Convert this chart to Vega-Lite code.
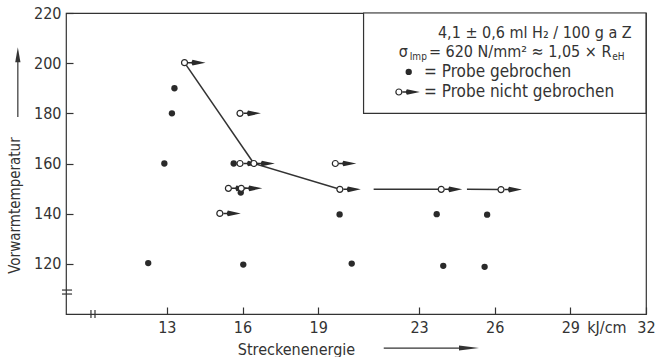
{
  "$schema": "https://vega.github.io/schema/vega-lite/v6.json",
  "width": 580,
  "height": 301,
  "autosize": {"type": "none"},
  "padding": {"left": 66, "top": 13, "right": 22, "bottom": 43},
  "background": "white",
  "config": {
    "view": {"stroke": "#333", "strokeWidth": 1.2},
    "font": "DejaVu Sans Condensed, Liberation Sans Narrow, DejaVu Sans",
    "axis": {"labelFont": "DejaVu Sans Condensed, Liberation Sans Narrow, DejaVu Sans", "titleFont": "DejaVu Sans Condensed, Liberation Sans Narrow, DejaVu Sans"}
  },
  "datasets": {
    "pts": [
      {"x": 13.3, "y": 190, "typ": "gebrochen"},
      {"x": 13.2, "y": 180, "typ": "gebrochen"},
      {"x": 12.9, "y": 160, "typ": "gebrochen"},
      {"x": 15.65, "y": 160, "typ": "gebrochen"},
      {"x": 15.93, "y": 148.4, "typ": "gebrochen"},
      {"x": 12.26, "y": 120.3, "typ": "gebrochen"},
      {"x": 16.03, "y": 119.7, "typ": "gebrochen"},
      {"x": 19.85, "y": 139.7, "typ": "gebrochen"},
      {"x": 23.7, "y": 139.8, "typ": "gebrochen"},
      {"x": 25.7, "y": 139.6, "typ": "gebrochen"},
      {"x": 20.33, "y": 120.1, "typ": "gebrochen"},
      {"x": 23.96, "y": 119.2, "typ": "gebrochen"},
      {"x": 25.6, "y": 118.8, "typ": "gebrochen"},
      {"x": 22.59, "y": 196.5, "typ": "gebrochen"},
      {"x": 13.7, "y": 200.2, "typ": "nicht gebrochen"},
      {"x": 15.9, "y": 180, "typ": "nicht gebrochen"},
      {"x": 15.9, "y": 160, "typ": "nicht gebrochen"},
      {"x": 16.45, "y": 160, "typ": "nicht gebrochen"},
      {"x": 15.44, "y": 150.1, "typ": "nicht gebrochen"},
      {"x": 15.95, "y": 150.1, "typ": "nicht gebrochen"},
      {"x": 15.1, "y": 140.1, "typ": "nicht gebrochen"},
      {"x": 19.68, "y": 160, "typ": "nicht gebrochen"},
      {"x": 19.86, "y": 149.7, "typ": "nicht gebrochen"},
      {"x": 23.88, "y": 149.7, "typ": "nicht gebrochen"},
      {"x": 26.25, "y": 149.6, "typ": "nicht gebrochen"},
      {"x": 22.2, "y": 188.5, "typ": "nicht gebrochen"}
    ],
    "seg": [
      {"s": "A", "o": 1, "x": 13.7, "y": 200.2},
      {"s": "A", "o": 2, "x": 16.45, "y": 160},
      {"s": "B", "o": 1, "x": 16.45, "y": 160},
      {"s": "B", "o": 2, "x": 19.86, "y": 149.7},
      {"s": "C", "o": 1, "x": 21.2, "y": 149.7},
      {"s": "C", "o": 2, "x": 23.88, "y": 149.7},
      {"s": "D", "o": 1, "x": 24.9, "y": 149.7},
      {"s": "D", "o": 2, "x": 26.25, "y": 149.6}
    ],
    "legtop": [
      {"x": 23.75, "y": 212.0, "t": "4,1 ± 0,6 ml H₂ / 100 g a Z"},
      {"x": 22.2, "y": 204.45, "t": "σ"},
      {"x": 23.39, "y": 204.45, "t": "= 620 N/mm² ≈ 1,05 × R"}
    ],
    "legtext": [
      {"x": 23.2, "y": 196.5, "t": "= Probe gebrochen"},
      {"x": 23.2, "y": 188.5, "t": "= Probe nicht gebrochen"}
    ],
    "legsub": [
      {"x": 22.63, "y": 204.45, "t": "Imp"},
      {"x": 30.66, "y": 204.45, "t": "eH"}
    ],
    "rules": [
      {"x": 9.99, "x2": 9.99, "y": 98.4, "y2": 101.6},
      {"x": 10.15, "x2": 10.15, "y": 98.4, "y2": 101.6},
      {"x": 8.84, "x2": 9.24, "y": 109.55, "y2": 109.55},
      {"x": 8.84, "x2": 9.24, "y": 107.96, "y2": 107.96},
      {"x": 7.09, "x2": 7.09, "y": 178.5, "y2": 201},
      {"x": 21.6, "x2": 24.6, "y": 86.4, "y2": 86.4}
    ]
  },
  "layer": [
    {
      "data": {"values": [{"x": 20.8, "x2": 32, "y": 180, "y2": 220}]},
      "mark": {"type": "rect", "fill": "white", "stroke": "#333", "strokeWidth": 1.2},
      "encoding": {
        "x": {"field": "x", "type": "quantitative",
          "scale": {"domain": [9, 32], "nice": false, "zero": false},
          "axis": {"values": [13, 16, 19, 23, 26, 29, 32], "format": "d", "domain": false, "grid": false,
            "offset": -7, "tickSize": 7, "tickColor": "#333", "tickWidth": 1.2, "labelPadding": 5, "labelFontSize": 16,
            "labelColor": "#333", "labelFlush": false, "labelFontWeight": "normal",
            "title": "Streckenenergie", "titleFontSize": 16, "titleFontWeight": "normal", "titleColor": "#333",
            "titleX": 230, "titleY": 42, "titleBaseline": "middle", "titleAlign": "center"}},
        "x2": {"field": "x2"},
        "y": {"field": "y", "type": "quantitative",
          "scale": {"domain": [100, 220], "nice": false, "zero": false},
          "axis": {"values": [120, 130, 140, 150, 160, 170, 180, 190, 200, 210, 220],
            "labelExpr": "datum.value == 210 ? '°C' : (datum.value % 20 == 0 ? datum.label : '')",
            "domain": false, "grid": false, "offset": -7, "tickSize": 7, "tickColor": "#333", "tickWidth": 1.2,
            "labelPadding": 5, "labelFontSize": 16, "labelColor": "#333", "labelFlush": false,
            "title": "Vorwarmtemperatur", "titleFontSize": 15, "titleFontWeight": "normal", "titleColor": "#333",
            "titleAngle": 270, "titleX": -59, "titleY": 192, "titleAlign": "center", "titleBaseline": "middle"}},
        "y2": {"field": "y2"}
      }
    },
    {
      "data": {"name": "seg"},
      "mark": {"type": "line", "color": "#333", "strokeWidth": 1.5},
      "encoding": {
        "x": {"field": "x", "type": "quantitative"},
        "y": {"field": "y", "type": "quantitative"},
        "detail": {"field": "s"},
        "order": {"field": "o"}
      }
    },
    {
      "data": {"name": "rules"},
      "mark": {"type": "rule", "color": "#333", "strokeWidth": 1.2},
      "encoding": {
        "x": {"field": "x", "type": "quantitative"},
        "x2": {"field": "x2"},
        "y": {"field": "y", "type": "quantitative"},
        "y2": {"field": "y2"}
      }
    },
    {
      "data": {"values": [{"x": 7.09, "y": 203.4}]},
      "mark": {"type": "point", "shape": "M0,-1 L0.35,1 L-0.35,1 Z", "size": 225, "filled": true, "color": "#333", "opacity": 1},
      "encoding": {
        "x": {"field": "x", "type": "quantitative"},
        "y": {"field": "y", "type": "quantitative"}
      }
    },
    {
      "data": {"values": [{"x": 24.98, "y": 86.4}]},
      "mark": {"type": "point", "shape": "M1,0 L-1,-0.25 L-1,0.25 Z", "size": 400, "filled": true, "color": "#333", "opacity": 1},
      "encoding": {
        "x": {"field": "x", "type": "quantitative"},
        "y": {"field": "y", "type": "quantitative"}
      }
    },
    {
      "data": {"name": "pts"},
      "transform": [{"filter": "datum.typ == 'gebrochen'"}],
      "mark": {"type": "point", "shape": "circle", "size": 40, "filled": true, "color": "#2a2a2a", "opacity": 1},
      "encoding": {
        "x": {"field": "x", "type": "quantitative"},
        "y": {"field": "y", "type": "quantitative"}
      }
    },
    {
      "data": {"name": "pts"},
      "transform": [{"filter": "datum.typ == 'nicht gebrochen'"}],
      "mark": {"type": "point", "shape": "M0.7,-0.15 L1.4,-0.15 L1.6,-0.56 L4.2,0 L1.6,0.56 L1.4,0.15 L0.7,0.15 Z", "size": 100, "filled": true, "color": "#2a2a2a", "opacity": 1},
      "encoding": {
        "x": {"field": "x", "type": "quantitative"},
        "y": {"field": "y", "type": "quantitative"}
      }
    },
    {
      "data": {"name": "pts"},
      "transform": [{"filter": "datum.typ == 'nicht gebrochen'"}],
      "mark": {"type": "point", "shape": "circle", "size": 36, "filled": false, "fill": "white", "stroke": "#2a2a2a", "strokeWidth": 1.2, "opacity": 1, "fillOpacity": 1},
      "encoding": {
        "x": {"field": "x", "type": "quantitative"},
        "y": {"field": "y", "type": "quantitative"}
      }
    },
    {
      "data": {"name": "legtop"},
      "mark": {"type": "text", "align": "left", "baseline": "middle", "fontSize": 16, "color": "#333"},
      "encoding": {
        "x": {"field": "x", "type": "quantitative"},
        "y": {"field": "y", "type": "quantitative"},
        "text": {"field": "t"}
      }
    },
    {
      "data": {"name": "legtext"},
      "mark": {"type": "text", "align": "left", "baseline": "middle", "fontSize": 17, "color": "#333"},
      "encoding": {
        "x": {"field": "x", "type": "quantitative"},
        "y": {"field": "y", "type": "quantitative"},
        "text": {"field": "t"}
      }
    },
    {
      "data": {"name": "legsub"},
      "mark": {"type": "text", "align": "left", "baseline": "middle", "fontSize": 10, "dy": 5, "color": "#333"},
      "encoding": {
        "x": {"field": "x", "type": "quantitative"},
        "y": {"field": "y", "type": "quantitative"},
        "text": {"field": "t"}
      }
    },
    {
      "data": {"values": [{"x": 30.45, "y": 100, "t": "kJ/cm"}]},
      "mark": {"type": "text", "align": "center", "baseline": "middle", "fontSize": 16, "dy": 14, "color": "#333"},
      "encoding": {
        "x": {"field": "x", "type": "quantitative"},
        "y": {"field": "y", "type": "quantitative"},
        "text": {"field": "t"}
      }
    }
  ]
}
